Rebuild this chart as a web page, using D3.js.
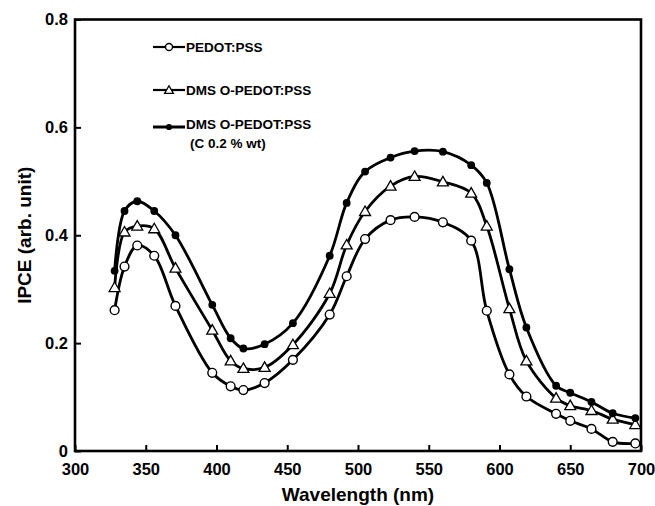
<!DOCTYPE html>
<html><head><meta charset="utf-8">
<script src="https://cdn.jsdelivr.net/npm/d3@7"></script>
<style>html,body{margin:0;padding:0;background:#fff;}svg{display:block;font-family:"Liberation Sans",Arial,sans-serif;font-weight:bold;}</style>
</head><body>
<svg id="c" width="655" height="506"></svg>
<script>
const wavelength = [328,335,344,356,371,397,410,419,434,454,480,492,505,523,540,560,580,591,607,619,640,650,665,680,696];
const pedot = [0.261,0.342,0.381,0.362,0.269,0.145,0.120,0.113,0.126,0.169,0.253,0.324,0.393,0.428,0.434,0.424,0.390,0.260,0.142,0.101,0.069,0.056,0.041,0.017,0.014];
const dmso = [0.303,0.406,0.417,0.412,0.339,0.224,0.167,0.153,0.155,0.197,0.292,0.382,0.444,0.491,0.509,0.499,0.478,0.417,0.264,0.167,0.098,0.084,0.075,0.059,0.049];
const dmsoC = [0.334,0.445,0.463,0.445,0.400,0.271,0.209,0.190,0.198,0.237,0.362,0.460,0.518,0.544,0.556,0.555,0.530,0.497,0.337,0.229,0.121,0.108,0.091,0.070,0.061];
const xTicks = [300,350,400,450,500,550,600,650,700];
const yTicks = [0,0.2,0.4,0.6,0.8];
const yTickLabels = ["0","0.2","0.4","0.6","0.8"];
const legendLabels = [["PEDOT:PSS"],["DMS O-PEDOT:PSS"],["DMS O-PEDOT:PSS","(C 0.2 % wt)"]];
const xTitle = "Wavelength (nm)";
const yTitle = "IPCE (arb. unit)";

const svg = d3.select("#c");
const L=75,R=641,T=19.5,B=451;
const x = d3.scaleLinear().domain([300,700]).range([L,R]);
const y = d3.scaleLinear().domain([0,0.8]).range([B,T]);

const series = [
  {vals:pedot, kind:"open"},
  {vals:dmso, kind:"tri"},
  {vals:dmsoC, kind:"fill"}
];
const line = d3.line().x(d=>x(d[0])).y(d=>y(d[1])).curve(d3.curveCatmullRom.alpha(0.5));
series.forEach(s=>{
  const pts = wavelength.map((w,i)=>[w,s.vals[i]]);
  svg.append("path").attr("d",line(pts)).attr("fill","none").attr("stroke","#000")
    .attr("stroke-width",2.8).attr("stroke-linejoin","round");
});
function drawMarker(g,kind,cx,cy,scale){
  scale = scale||1;
  if(kind==="open"){
    g.append("circle").attr("cx",cx).attr("cy",cy).attr("r",4.4*scale).attr("fill","#fff").attr("stroke","#000").attr("stroke-width",1.4);
  } else if(kind==="tri"){
    g.append("path").attr("d",d3.symbol(d3.symbolTriangle,52*scale*scale)()).attr("transform",`translate(${cx},${cy+0.8})`)
      .attr("fill","#fff").attr("stroke","#000").attr("stroke-width",1.3);
  } else {
    g.append("circle").attr("cx",cx).attr("cy",cy).attr("r",3.9*scale).attr("fill","#000");
  }
}
const mg = svg.append("g");
series.forEach(s=>{
  wavelength.forEach((w,i)=>drawMarker(mg,s.kind,x(w),y(s.vals[i])));
});

svg.append("rect").attr("x",L).attr("y",T).attr("width",R-L).attr("height",B-T)
  .attr("fill","none").attr("stroke","#000").attr("stroke-width",2.6);

const xAxis = d3.axisBottom(x).tickValues(xTicks).tickSize(-6).tickPadding(10).tickFormat(d3.format("d"));
const gx = svg.append("g").attr("transform",`translate(0,${B})`).call(xAxis);
gx.select(".domain").remove();
gx.selectAll(".tick line").attr("stroke","#000").attr("stroke-width",2);
gx.selectAll(".tick text").attr("font-size",16.5).attr("font-weight","bold").attr("fill","#000")
  .attr("font-family","'Liberation Sans',Arial,sans-serif").attr("dy","0.72em").attr("y",12);

const yAxis = d3.axisLeft(y).tickValues(yTicks).tickSize(-6).tickPadding(8).tickFormat((d,i)=>yTickLabels[i]);
const gy = svg.append("g").attr("transform",`translate(${L},0)`).call(yAxis);
gy.select(".domain").remove();
gy.selectAll(".tick line").attr("stroke","#000").attr("stroke-width",2);
gy.selectAll(".tick text").attr("font-size",16.5).attr("font-weight","bold").attr("fill","#000")
  .attr("font-family","'Liberation Sans',Arial,sans-serif").attr("x",-7);

svg.append("text").attr("x",(L+R)/2).attr("y",501).attr("text-anchor","middle")
  .attr("font-size",19).text(xTitle);
svg.append("text").attr("transform",`translate(31,${(T+B)/2}) rotate(-90)`).attr("text-anchor","middle")
  .attr("font-size",19).text(yTitle);

const legY = [47,90,127];
legendLabels.forEach((lab,i)=>{
  const g = svg.append("g");
  const ly = legY[i];
  g.append("line").attr("x1",153).attr("x2",185).attr("y1",ly).attr("y2",ly).attr("stroke","#000").attr("stroke-width",i===2?3:2.2);
  drawMarker(g,series[i].kind,169,ly,0.8);
  lab.forEach((t,j)=>{
    g.append("text").attr("x",j===0?186:190).attr("y",(i===2?ly-3:ly)+j*19).attr("dy","0.36em").attr("font-size",13.5).text(t);
  });
});
</script>
</body></html>
